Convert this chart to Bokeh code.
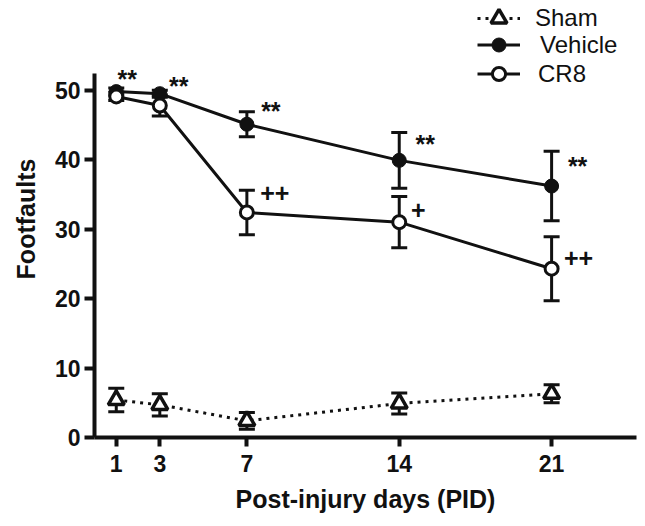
from bokeh.plotting import figure
from bokeh.models import (Range1d, FixedTicker, Whisker, TeeHead, ColumnDataSource,
                          Legend, LegendItem, Label)
from bokeh.embed import file_html
from bokeh.resources import INLINE

# ---- data ----
days = [1, 3, 7, 14, 21]
sham = [5.4, 4.7, 2.4, 4.9, 6.3]
sham_err = [1.7, 1.6, 1.2, 1.5, 1.3]
vehicle = [49.8, 49.5, 45.1, 39.9, 36.2]
vehicle_err = [0.5, 0.5, 1.8, 4.0, 5.0]
cr8 = [49.1, 47.8, 32.4, 31.0, 24.3]
cr8_err = [0.6, 1.5, 3.2, 3.7, 4.6]
vehicle_marks = ["**", "**", "**", "**", "**"]
cr8_marks = ["", "", "++", "+", "++"]
x_ticks = [1, 3, 7, 14, 21]
y_ticks = [0, 10, 20, 30, 40, 50]
y_axis_max = 52.4
series_names = ["Sham", "Vehicle", "CR8"]

FONT = "Liberation Sans"
COL = "#111111"

FRAME_H = 437
PX_PER_UNIT = 6.946
p = figure(width=645, height=524, x_range=Range1d(0, 24.9),
           y_range=Range1d(0, FRAME_H / PX_PER_UNIT),
           output_backend="svg", toolbar_location=None,
           min_border_left=94, min_border_right=9, min_border_top=0,
           min_border_bottom=524 - FRAME_H)
p.outline_line_color = None
p.xgrid.visible = False
p.ygrid.visible = False
p.background_fill_color = "white"

for ax in (p.xaxis, p.yaxis):
    ax.axis_line_width = 4
    ax.axis_line_color = COL
    ax.major_tick_line_width = 4
    ax.major_tick_line_color = COL
    ax.major_tick_in = 0
    ax.minor_tick_line_color = None
    ax.major_label_text_font = FONT
    ax.major_label_text_font_style = "bold"
    ax.major_label_text_font_size = "23px"
    ax.major_label_text_color = COL
    ax.axis_label_text_font = FONT
    ax.axis_label_text_font_style = "bold"
    ax.axis_label_text_font_size = "25px"
    ax.axis_label_text_color = COL

p.yaxis.bounds = (0, y_axis_max)
p.xaxis.ticker = FixedTicker(ticks=x_ticks)
p.yaxis.ticker = FixedTicker(ticks=y_ticks)
p.xaxis.major_tick_out = 9
p.yaxis.major_tick_out = 10
p.xaxis.major_label_standoff = 8
p.yaxis.major_label_standoff = 4
p.xaxis.axis_label = "Post-injury days (PID)"
p.yaxis.axis_label = "Footfaults"
p.xaxis.axis_label_standoff = 10
p.yaxis.axis_label_standoff = 12


def add_series(vals, errs, marker, fill, dash, size, lw_marker):
    src = ColumnDataSource(dict(x=days, y=vals,
                                lo=[v - e for v, e in zip(vals, errs)],
                                hi=[v + e for v, e in zip(vals, errs)]))
    w = Whisker(source=src, base="x", upper="hi", lower="lo", dimension="height",
                line_width=3, line_color=COL, level="underlay",
                upper_head=TeeHead(size=16, line_width=3, line_color=COL),
                lower_head=TeeHead(size=16, line_width=3, line_color=COL))
    p.add_layout(w)
    lr = p.line("x", "y", source=src, line_width=3, line_color=COL, line_dash=dash)
    sr = p.scatter("x", "y", source=src, marker=marker, size=size, line_color=COL,
                   line_width=lw_marker, fill_color=fill)
    return lr, sr


sham_r = add_series(sham, sham_err, "triangle", "white", "3 5", 16, 3.5)
veh_r = add_series(vehicle, vehicle_err, "circle", COL, "solid", 14, 1)
cr8_r = add_series(cr8, cr8_err, "circle", "white", "solid", 13, 3)

# one legend box per entry so the rows sit where the reference puts them
legend_rows = [(sham_r, 18, 15, 40), (veh_r, 45, 20, 35), (cr8_r, 74, 18, 33)]
for name, (rends, center_y, standoff, gh) in zip(series_names, legend_rows):
    lg = Legend(items=[LegendItem(label=name, renderers=list(rends))],
                location=(383, FRAME_H - center_y - gh // 2), padding=0, margin=0,
                spacing=0, glyph_width=43, glyph_height=gh, label_height=gh,
                label_standoff=standoff, border_line_color=None,
                background_fill_alpha=0, label_text_font=FONT,
                label_text_font_size="24px", label_text_color=COL)
    p.add_layout(lg, "center")

# significance marks (pixel offsets from the points)
veh_off = [(11, 15), (19, 10), (24, 15), (26, 18), (26, 22)]
cr8_off = [(0, 0), (0, 0), (28, 19), (19, 12), (27, 11)]
for i in range(len(days)):
    if vehicle_marks[i]:
        p.add_layout(Label(x=days[i], y=vehicle[i], text=vehicle_marks[i],
                           x_offset=veh_off[i][0], y_offset=veh_off[i][1] - 2,
                           text_align="center", text_baseline="middle",
                           text_font=FONT, text_font_style="bold",
                           text_font_size="25px", text_color=COL))
    if cr8_marks[i]:
        p.add_layout(Label(x=days[i], y=cr8[i], text=cr8_marks[i],
                           x_offset=cr8_off[i][0], y_offset=cr8_off[i][1],
                           text_align="center", text_baseline="middle",
                           text_font=FONT, text_font_style="bold",
                           text_font_size="25px", text_color=COL))

open("out.html", "w").write(file_html(p, INLINE))
